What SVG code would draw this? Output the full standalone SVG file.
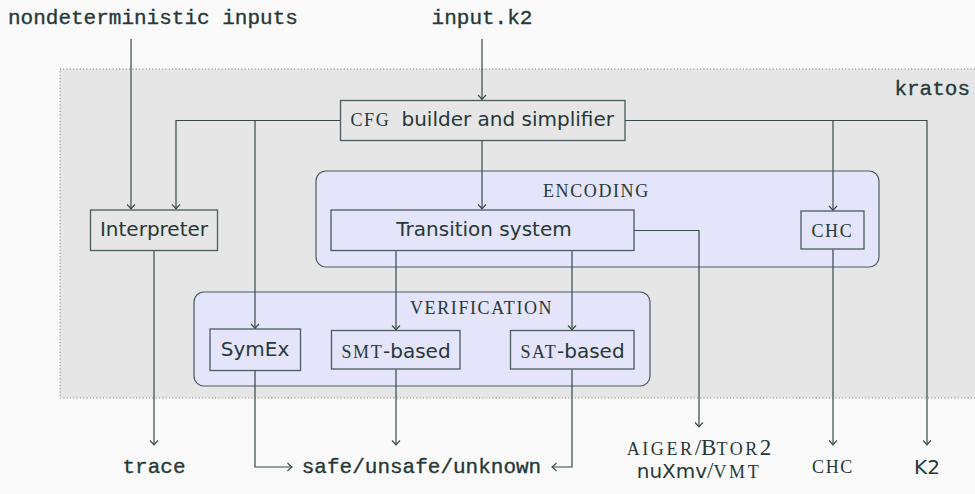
<svg xmlns="http://www.w3.org/2000/svg" width="975" height="494" viewBox="0 0 975 494">
<style>
.bg{fill:#fafafa}
.region{fill:#e6e6e6;stroke:none}
.dots{fill:none;stroke:#7a7a7a;stroke-width:1;stroke-dasharray:1 2.3}
.grp{fill:#e4e4fa;stroke:#4a5c5c;stroke-width:1.2}
.box{fill:#e6e6e6;stroke:#4a5c5c;stroke-width:1.3}
.pbox{fill:#e4e4fa;stroke:#4a5c5c;stroke-width:1.3}
.ln{fill:none;stroke:#364848;stroke-width:1.2}
text{fill:#263838}
.tt{font-family:"Liberation Mono",monospace;font-size:21px;stroke:#263838;stroke-width:0.35}
.sf{font-family:"DejaVu Sans",sans-serif;font-size:20px}
.sc{font-family:"Liberation Serif",serif;font-size:18px;letter-spacing:1.6px}
.rm{font-family:"Liberation Serif",serif;font-size:23px}
.wide{letter-spacing:2.6px}
</style>
<defs>
<marker id="ah" markerWidth="12" markerHeight="12" refX="0" refY="0" viewBox="-6 -6 12 12" orient="auto" markerUnits="userSpaceOnUse">
<path d="M-4.5,-4 Q-1.5,-1 0,0 Q-1.5,1 -4.5,4" fill="none" stroke="#364848" stroke-width="1.1"/>
</marker>
</defs>
<rect class="bg" x="0" y="0" width="975" height="494"/>
<g id="kratos-region">
<rect class="region" x="60" y="69" width="915" height="329"/>
<path class="dots" d="M975,69 H60 V398 H975"/>
<text class="tt" x="970" y="95" text-anchor="end">kratos</text>
</g>
<g id="encoding-group">
<rect class="grp" x="316" y="171" width="563" height="96" rx="10"/>
<text class="sc" x="543" y="197">ENCODING</text>
</g>
<g id="verification-group">
<rect class="grp" x="194" y="292" width="456" height="94" rx="10"/>
<text class="sc" x="410" y="314">VERIFICATION</text>
</g>
<g id="connectors">
<path class="ln" d="M131,39 V209" marker-end="url(#ah)"/>
<path class="ln" d="M482,39 V99.5" marker-end="url(#ah)"/>
<path class="ln" d="M340,120.5 H176 V209" marker-end="url(#ah)"/>
<path class="ln" d="M255,120.5 V328.5" marker-end="url(#ah)"/>
<path class="ln" d="M482,141 V209" marker-end="url(#ah)"/>
<path class="ln" d="M625,120.5 H927 V445" marker-end="url(#ah)"/>
<path class="ln" d="M833,120.5 V210.5" marker-end="url(#ah)"/>
<path class="ln" d="M634,230.5 H699 V427" marker-end="url(#ah)"/>
<path class="ln" d="M396,251 V330" marker-end="url(#ah)"/>
<path class="ln" d="M572,251 V330" marker-end="url(#ah)"/>
<path class="ln" d="M154,251 V445" marker-end="url(#ah)"/>
<path class="ln" d="M255,371 V467 H292" marker-end="url(#ah)"/>
<path class="ln" d="M396,369.5 V445" marker-end="url(#ah)"/>
<path class="ln" d="M572,369.5 V467 H552" marker-end="url(#ah)"/>
<path class="ln" d="M833,249.5 V445" marker-end="url(#ah)"/>
</g>
<g id="cfg">
<rect class="box" x="340.5" y="100.5" width="284.5" height="40"/>
<text y="126"><tspan class="sc" x="350.5">CFG</tspan><tspan class="sf" x="401.5">builder and simplifier</tspan></text>
</g>
<g id="interpreter">
<rect class="box" x="90.5" y="210" width="127" height="40.5"/>
<text class="sf" x="154" y="236" text-anchor="middle">Interpreter</text>
</g>
<g id="transition-system">
<rect class="pbox" x="331" y="210" width="303" height="40.5"/>
<text class="sf" x="484" y="236" text-anchor="middle">Transition system</text>
</g>
<g id="chc">
<rect class="pbox" x="801" y="211" width="63" height="38"/>
<text class="sc" x="811.5" y="237">CHC</text>
</g>
<g id="symex">
<rect class="pbox" x="210" y="329" width="90.5" height="41.5"/>
<text class="sf" x="255" y="356" text-anchor="middle">SymEx</text>
</g>
<g id="smt">
<rect class="pbox" x="331.5" y="330.5" width="128.5" height="38.5"/>
<text y="357.5"><tspan class="sc" x="341.5">SMT</tspan><tspan class="sf" x="383">-based</tspan></text>
</g>
<g id="sat">
<rect class="pbox" x="510.5" y="330.5" width="123.5" height="38.5"/>
<text y="357.5"><tspan class="sc" x="520.5">SAT</tspan><tspan class="sf" x="557">-based</tspan></text>
</g>
<g id="inputs">
<text class="tt" x="8" y="24">nondeterministic inputs</text>
<text class="tt" x="482" y="24" text-anchor="middle">input.k2</text>
</g>
<g id="outputs">
<text class="tt" x="154" y="473" text-anchor="middle">trace</text>
<text class="tt" x="421.5" y="473" text-anchor="middle">safe/unsafe/unknown</text>
<text x="699" y="455" text-anchor="middle"><tspan class="sc wide">AIGER</tspan><tspan class="rm">/B</tspan><tspan class="sc wide">TOR</tspan><tspan class="rm">2</tspan></text>
<text x="699" y="478" text-anchor="middle"><tspan class="sf">nuXmv</tspan><tspan class="rm">/</tspan><tspan class="sc wide">VMT</tspan></text>
<text class="sc" x="833" y="473" text-anchor="middle">CHC</text>
<text class="sf" x="927" y="474" text-anchor="middle">K2</text>
</g>
</svg>
